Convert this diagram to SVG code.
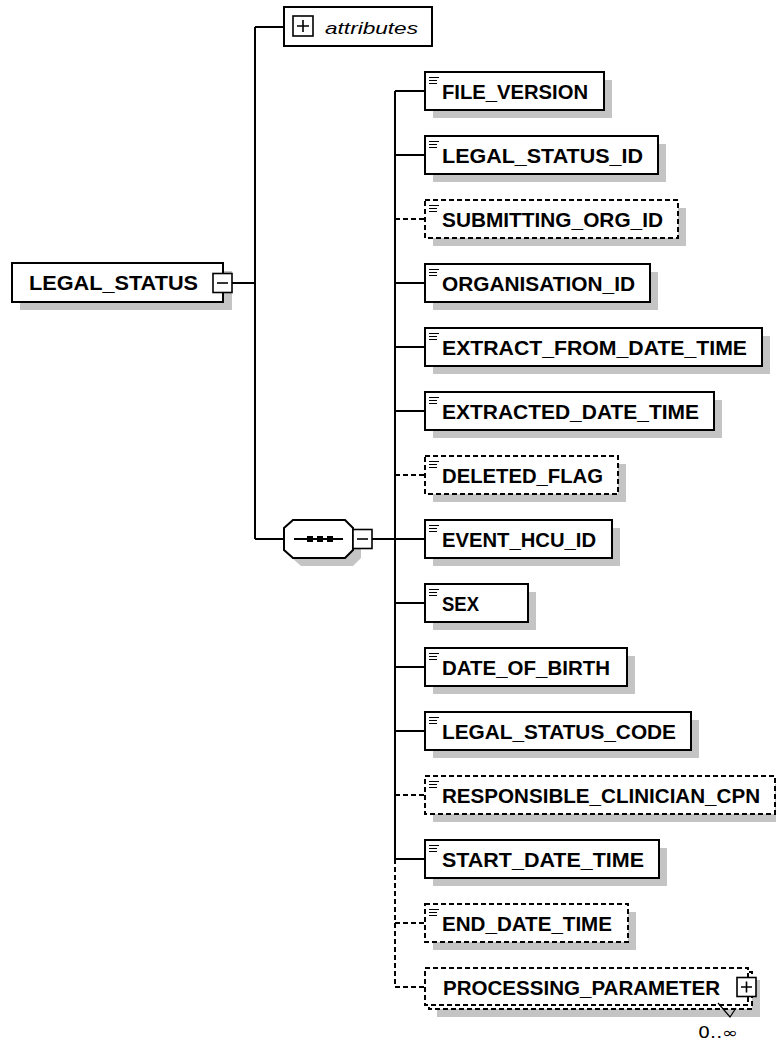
<svg xmlns="http://www.w3.org/2000/svg" width="776" height="1042" viewBox="0 0 776 1042">
<defs>
<style>
.box{fill:#fff;stroke:#000;stroke-width:2}
.opt{stroke-dasharray:5 3}
.sh{fill:#c4c4c4}
.lbl{font-family:"Liberation Sans",Arial,sans-serif;font-weight:bold;font-size:20px;fill:#000}
.ln{stroke:#000;stroke-width:2;fill:none}
.dl{stroke-dasharray:5 3}
.ic{stroke:#000;stroke-width:1.2;fill:none}
.pm{fill:#fff;stroke:#000;stroke-width:1.6}
.pl{stroke:#000;stroke-width:1.6;fill:none}
</style>
<g id="elicon"><path class="ic" d="M4,5.5h10M4,8.5h8M4,11.5h8"/></g>
</defs>
<rect width="776" height="1042" fill="#fff"/>

<g id="connectors">
<path class="ln" d="M232,283H255M255,27V539M255,27H284M255,539H284M372,539H395"/>
<path class="ln" d="M395,91V859"/>
<path class="ln dl" d="M395,859V987"/>
<path class="ln" d="M395,91H425M395,155H425M395,283H425M395,347H425M395,411H425M395,539H425M395,603H425M395,667H425M395,731H425M395,859H425"/>
<path class="ln dl" d="M395,219H425M395,475H425M395,795H425M395,923H425M395,987H425"/>
</g>

<g id="LEGAL_STATUS">
<rect class="sh" x="20" y="271" width="212" height="39"/>
<rect class="box" x="12" y="263" width="211" height="39"/>
<text class="lbl" x="29" y="290" textLength="169" lengthAdjust="spacingAndGlyphs">LEGAL_STATUS</text>
<rect class="pm" x="213" y="273.5" width="19" height="19"/>
<path class="pl" d="M217,283H228"/>
</g>

<g id="attributes">
<rect class="box" x="284" y="7" width="148" height="39"/>
<rect class="pm" x="293" y="16" width="20" height="20"/>
<path class="pl" d="M297,26H309M303,20V32"/>
<text x="325" y="34" font-family="'Liberation Sans',Arial,sans-serif" font-style="italic" font-size="17" textLength="93" lengthAdjust="spacingAndGlyphs">attributes</text>
</g>

<g id="sequence">
<polygon class="sh" points="301,528 353,528 361,536 361,558 353,566 301,566 292,558 292,536"/>
<polygon class="box" points="293,520 345,520 353,528 353,550 345,558 293,558 284,550 284,528"/>
<path class="ln" d="M294,539H343"/>
<rect x="307" y="536" width="6" height="6"/>
<rect x="317" y="536" width="6" height="6"/>
<rect x="327" y="536" width="6" height="6"/>
<rect class="pm" x="353" y="529.5" width="19" height="19"/>
<path class="pl" d="M357,539H368"/>
</g>

<g id="FILE_VERSION">
<rect class="sh" x="433" y="80" width="179" height="38"/>
<rect class="box" x="425" y="72" width="179" height="38"/>
<use href="#elicon" x="425" y="72"/>
<text class="lbl" x="442" y="99" textLength="146" lengthAdjust="spacingAndGlyphs">FILE_VERSION</text>
</g>

<g id="LEGAL_STATUS_ID">
<rect class="sh" x="433" y="144" width="233" height="38"/>
<rect class="box" x="425" y="136" width="233" height="38"/>
<use href="#elicon" x="425" y="136"/>
<text class="lbl" x="442" y="163" textLength="201" lengthAdjust="spacingAndGlyphs">LEGAL_STATUS_ID</text>
</g>

<g id="SUBMITTING_ORG_ID">
<rect class="sh" x="433" y="208" width="253" height="38"/>
<rect class="box opt" x="425" y="200" width="253" height="38"/>
<use href="#elicon" x="425" y="200"/>
<text class="lbl" x="442" y="227" textLength="221" lengthAdjust="spacingAndGlyphs">SUBMITTING_ORG_ID</text>
</g>

<g id="ORGANISATION_ID">
<rect class="sh" x="433" y="272" width="225" height="38"/>
<rect class="box" x="425" y="264" width="225" height="38"/>
<use href="#elicon" x="425" y="264"/>
<text class="lbl" x="442" y="291" textLength="193" lengthAdjust="spacingAndGlyphs">ORGANISATION_ID</text>
</g>

<g id="EXTRACT_FROM_DATE_TIME">
<rect class="sh" x="433" y="336" width="337" height="38"/>
<rect class="box" x="425" y="328" width="337" height="38"/>
<use href="#elicon" x="425" y="328"/>
<text class="lbl" x="442" y="355" textLength="305" lengthAdjust="spacingAndGlyphs">EXTRACT_FROM_DATE_TIME</text>
</g>

<g id="EXTRACTED_DATE_TIME">
<rect class="sh" x="433" y="400" width="289" height="38"/>
<rect class="box" x="425" y="392" width="289" height="38"/>
<use href="#elicon" x="425" y="392"/>
<text class="lbl" x="442" y="419" textLength="257" lengthAdjust="spacingAndGlyphs">EXTRACTED_DATE_TIME</text>
</g>

<g id="DELETED_FLAG">
<rect class="sh" x="433" y="464" width="193" height="38"/>
<rect class="box opt" x="425" y="456" width="193" height="38"/>
<use href="#elicon" x="425" y="456"/>
<text class="lbl" x="442" y="483" textLength="161" lengthAdjust="spacingAndGlyphs">DELETED_FLAG</text>
</g>

<g id="EVENT_HCU_ID">
<rect class="sh" x="433" y="528" width="187" height="38"/>
<rect class="box" x="425" y="520" width="187" height="38"/>
<use href="#elicon" x="425" y="520"/>
<text class="lbl" x="442" y="547" textLength="154" lengthAdjust="spacingAndGlyphs">EVENT_HCU_ID</text>
</g>

<g id="SEX">
<rect class="sh" x="433" y="592" width="103" height="38"/>
<rect class="box" x="425" y="584" width="103" height="38"/>
<use href="#elicon" x="425" y="584"/>
<text class="lbl" x="442" y="611" textLength="37" lengthAdjust="spacingAndGlyphs">SEX</text>
</g>

<g id="DATE_OF_BIRTH">
<rect class="sh" x="433" y="656" width="202" height="38"/>
<rect class="box" x="425" y="648" width="202" height="38"/>
<use href="#elicon" x="425" y="648"/>
<text class="lbl" x="442" y="675" textLength="168" lengthAdjust="spacingAndGlyphs">DATE_OF_BIRTH</text>
</g>

<g id="LEGAL_STATUS_CODE">
<rect class="sh" x="433" y="720" width="266" height="38"/>
<rect class="box" x="425" y="712" width="266" height="38"/>
<use href="#elicon" x="425" y="712"/>
<text class="lbl" x="442" y="739" textLength="234" lengthAdjust="spacingAndGlyphs">LEGAL_STATUS_CODE</text>
</g>

<g id="RESPONSIBLE_CLINICIAN_CPN">
<rect class="sh" x="433" y="784" width="350" height="38"/>
<rect class="box opt" x="425" y="776" width="350" height="38"/>
<use href="#elicon" x="425" y="776"/>
<text class="lbl" x="442" y="803" textLength="318" lengthAdjust="spacingAndGlyphs">RESPONSIBLE_CLINICIAN_CPN</text>
</g>

<g id="START_DATE_TIME">
<rect class="sh" x="433" y="848" width="234" height="38"/>
<rect class="box" x="425" y="840" width="234" height="38"/>
<use href="#elicon" x="425" y="840"/>
<text class="lbl" x="442" y="867" textLength="202" lengthAdjust="spacingAndGlyphs">START_DATE_TIME</text>
</g>

<g id="END_DATE_TIME">
<rect class="sh" x="433" y="912" width="203" height="38"/>
<rect class="box opt" x="425" y="904" width="203" height="38"/>
<use href="#elicon" x="425" y="904"/>
<text class="lbl" x="442" y="931" textLength="170" lengthAdjust="spacingAndGlyphs">END_DATE_TIME</text>
</g>

<g id="PROCESSING_PARAMETER">
<rect class="sh" x="437" y="980" width="323" height="37"/>
<rect class="box opt" x="429" y="972" width="323" height="37"/>
<rect class="box opt" x="425" y="968" width="323" height="37"/>
<text class="lbl" x="443" y="995" textLength="277" lengthAdjust="spacingAndGlyphs">PROCESSING_PARAMETER</text>
<rect class="pm" x="737" y="977.5" width="19" height="19"/>
<path class="pl" d="M741,987H752M746.5,981.5V992.5"/>
<path class="ic" d="M718,1003L730,1017L736,1008"/>
<text x="698" y="1038" font-family="'DejaVu Sans',sans-serif" font-size="15" textLength="40" lengthAdjust="spacingAndGlyphs">0..∞</text>
</g>
</svg>
